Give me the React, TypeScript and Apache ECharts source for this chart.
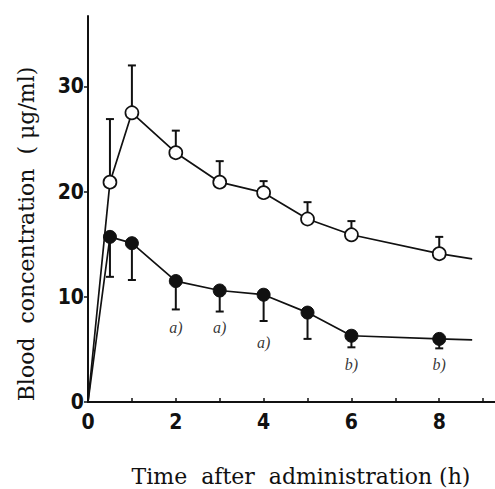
import React, { useEffect, useRef } from "react";
import * as echarts from "echarts";

const times = [0.5, 1, 2, 3, 4, 5, 6, 8];
const openMean = [20.9, 27.5, 23.7, 20.9, 19.9, 17.4, 15.9, 14.1];
const openSD = [6.0, 4.5, 2.1, 2.0, 1.1, 1.6, 1.3, 1.6];
const filledMean = [15.7, 15.1, 11.5, 10.6, 10.2, 8.5, 6.3, 6.0];
const filledSD = [3.8, 3.5, 2.7, 2.0, 2.5, 2.5, 1.1, 0.9];
const origin = [0, 0];
const tailTime = 8.75;
const openTail = 13.6;
const filledTail = 5.9;
const noteTimes = [2, 3, 4, 6, 8];
const noteY = [7.1, 7.1, 5.7, 3.6, 3.6];
const noteText = ["a)", "a)", "a)", "b)", "b)"];
const xTicks = [0, 1, 2, 3, 4, 5, 6, 7, 8, 9];
const xLabels = [0, 2, 4, 6, 8];
const yTicks = [0, 10, 20, 30];

const INK = "#111";

function lineData(mean: number[], tail: number) {
  const d: any[] = [{ value: origin, symbol: "none" }];
  times.forEach((t, i) => d.push([t, mean[i]]));
  d.push({ value: [tailTime, tail], symbol: "none" });
  return d;
}

function errRender(dir: number) {
  return (params: any, api: any) => {
    const x = api.value(0);
    const m = api.value(1);
    const sd = api.value(2);
    const p0 = api.coord([x, m]);
    const p1 = api.coord([x, m + dir * sd]);
    return {
      type: "group",
      children: [
        {
          type: "line",
          shape: { x1: p0[0], y1: p0[1], x2: p1[0], y2: p1[1] },
          style: { stroke: INK, lineWidth: 2 },
        },
        {
          type: "line",
          shape: { x1: p1[0] - 4, y1: p1[1], x2: p1[0] + 4, y2: p1[1] },
          style: { stroke: INK, lineWidth: 2 },
        },
      ],
    };
  };
}

export default function App() {
  const ref = useRef<HTMLDivElement>(null);
  useEffect(() => {
    const chart = echarts.init(ref.current!, null, { renderer: "svg" });
    chart.setOption({
      animation: false,
      backgroundColor: "#fff",
      grid: { left: 88, right: 0, top: 16, bottom: 87 },
      xAxis: {
        type: "value",
        min: 0,
        max: 9.27,
        interval: 1,
        splitLine: { show: false },
        axisLine: { lineStyle: { color: INK, width: 2 } },
        axisTick: {
          inside: true,
          length: 4,
          customValues: xTicks,
          lineStyle: { color: INK, width: 1.5 },
        },
        axisLabel: {
          customValues: xLabels,
          margin: 9,
          color: INK,
          fontSize: 21,
          fontWeight: "bold",
          fontFamily: "Liberation Sans Narrow, DejaVu Sans Condensed, Arial Narrow, sans-serif",
        },
      },
      yAxis: {
        type: "value",
        min: 0,
        max: 36.7,
        interval: 10,
        splitLine: { show: false },
        axisLine: { lineStyle: { color: INK, width: 2 } },
        axisTick: {
          inside: false,
          length: 4,
          customValues: yTicks,
          lineStyle: { color: INK, width: 1.5 },
        },
        axisLabel: {
          customValues: yTicks,
          margin: 4,
          color: INK,
          fontSize: 21,
          fontWeight: "bold",
          fontFamily: "Liberation Sans Narrow, DejaVu Sans Condensed, Arial Narrow, sans-serif",
        },
      },
      series: [
        {
          type: "custom",
          renderItem: errRender(1),
          data: times.map((t, i) => [t, openMean[i], openSD[i]]),
          z: 1,
        },
        {
          type: "custom",
          renderItem: errRender(-1),
          data: times.map((t, i) => [t, filledMean[i], filledSD[i]]),
          z: 1,
        },
        {
          type: "line",
          data: lineData(openMean, openTail),
          symbol: "circle",
          symbolSize: 13,
          showAllSymbol: true,
          lineStyle: { color: INK, width: 1.7 },
          itemStyle: { color: "#fff", borderColor: INK, borderWidth: 1.7 },
          z: 3,
        },
        {
          type: "line",
          data: lineData(filledMean, filledTail),
          symbol: "circle",
          symbolSize: 13,
          showAllSymbol: true,
          lineStyle: { color: INK, width: 1.7 },
          itemStyle: { color: INK, borderColor: INK, borderWidth: 1 },
          z: 3,
        },
        {
          type: "scatter",
          symbolSize: 0,
          data: noteTimes.map((t, i) => ({ value: [t, noteY[i]], name: noteText[i] })),
          label: {
            show: true,
            position: "inside",
            formatter: (p: any) => p.name,
            color: "#000",
            fontSize: 16,
            fontStyle: "italic",
            fontFamily: "Liberation Serif, DejaVu Serif, serif",
          },
          z: 4,
        },
      ],
      graphic: [
        {
          type: "text",
          x: 301,
          y: 476,
          style: {
            text: "Time  after  administration (h)",
            fontSize: 22,
            fontFamily: "DejaVu Serif, Liberation Serif, serif",
            fill: INK,
            align: "center",
            verticalAlign: "middle",
          },
        },
        {
          type: "text",
          x: 26,
          y: 234,
          rotation: Math.PI / 2,
          style: {
            text: "Blood  concentration  ( μg/ml)",
            fontSize: 22,
            fontFamily: "DejaVu Serif, Liberation Serif, serif",
            fill: INK,
            align: "center",
            verticalAlign: "middle",
          },
        },
      ],
    });
    return () => chart.dispose();
  }, []);
  return (
    <div
      ref={ref}
      style={{ position: "absolute", left: 0, top: 0, width: 495, height: 489 }}
    />
  );
}
